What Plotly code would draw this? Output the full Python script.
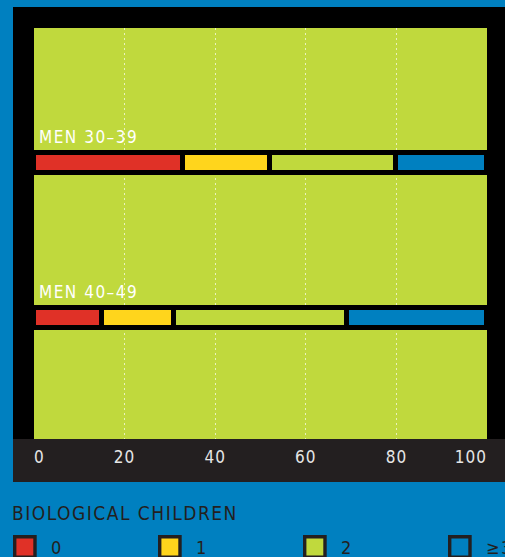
import plotly.graph_objects as go

# share of men by number of biological children (%)
groups = ["MEN 30–39", "MEN 40–49"]
kids = ["0", "1", "2", "≥3"]
share_30s = [33, 19, 28, 20]
share_40s = [15, 16, 38, 31]
colors = ["#e03127", "#ffd51c", "#c0d93d", "#0080c0"]
ticks = [0, 20, 40, 60, 80, 100]

W, H = 505, 557
BLUE = "#0080c0"
DARK = "#231f20"
FONT = "DejaVu Sans Condensed, Roboto, sans-serif"


def rect(x0, y0, x1, y1, **kw):
    # pixel box (from top-left) -> paper coords
    return dict(type="rect", xref="paper", yref="paper",
                x0=x0 / W, x1=x1 / W, y0=1 - y1 / H, y1=1 - y0 / H, **kw)


fig = go.Figure()

for i, k in enumerate(kids):
    fig.add_trace(go.Bar(
        y=groups,
        x=[share_30s[i], share_40s[i]],
        orientation="h",
        name=k,
        width=0.131,
        marker=dict(color=colors[i], line=dict(color="black", width=5.4)),
        showlegend=False,
        hoverinfo="x+name",
    ))

shapes = [
    # black frame round the plot area
    rect(13, 7, 505, 28, fillcolor="black", line_width=0, layer="below"),
    rect(13, 28, 34, 439, fillcolor="black", line_width=0, layer="below"),
    rect(487, 28, 505, 439, fillcolor="black", line_width=0, layer="below"),
    # dark band under it, holding the tick labels
    rect(13, 439, 505, 482, fillcolor=DARK, line_width=0, layer="below"),
]

annotations = []
for g in groups:
    annotations.append(dict(x=0, y=g, xref="x", yref="y", text=g, showarrow=False,
                            xanchor="left", yanchor="middle", align="left",
                            xshift=3, yshift=26,
                            font=dict(family=FONT, size=17, color="white")))

# legend drawn by hand: big square swatches with dark border
annotations.append(dict(x=10 / W, y=1 - 513 / H, xref="paper", yref="paper",
                        text="BIOLOGICAL CHILDREN", showarrow=False,
                        xanchor="left", yanchor="middle", align="left",
                        font=dict(family=FONT, size=19, color=DARK)))
for i, k in enumerate(kids):
    left = 13 + 145 * i
    shapes.append(rect(left + 1.7, 536.7, left + 22, 557.3, fillcolor=colors[i],
                       line=dict(color=DARK, width=3.4)))
    annotations.append(dict(x=(left + 36) / W, y=1 - 547.5 / H, xref="paper", yref="paper",
                            text=k, showarrow=False, xanchor="left", yanchor="middle",
                            align="left",
                            font=dict(family=FONT, size=18, color=DARK)))

fig.update_layout(
    width=W, height=H,
    margin=dict(l=0, r=0, t=0, b=0, autoexpand=False),
    paper_bgcolor=BLUE,
    plot_bgcolor="#c0d93d",
    barmode="stack",
    bargap=0,
    shapes=shapes,
    annotations=annotations,
    xaxis=dict(
        domain=[34 / W, 487 / W],
        range=[0, 100],
        tickvals=ticks,
        showgrid=True,
        gridcolor="rgba(255,255,255,0.65)",
        gridwidth=1,
        griddash="2px,3px",
        zeroline=False,
        showline=False,
        ticks="",
        ticklabelstandoff=6,
        ticklabeloverflow="allow",
        tickfont=dict(family=FONT, size=17, color="#e6e6e6"),
        fixedrange=True,
    ),
    yaxis=dict(
        domain=[(H - 439) / H, (H - 28) / H],
        type="category",
        categoryorder="array",
        categoryarray=groups[::-1],
        range=[-0.782, 1.870],
        showticklabels=False,
        showgrid=False,
        zeroline=False,
        ticks="",
        fixedrange=True,
    ),
)

# page css: no body margin, spaced-out caps like the print original,
# end tick labels flush with the plot edges
css = ("html, body {margin:0; padding:0; overflow:hidden}"
       " .annotation-text {letter-spacing:1.5px}"
       " .xtick text {letter-spacing:1px}"
       " .xtick:first-of-type text {text-anchor:start !important}"
       " .xtick:last-of-type text {text-anchor:end !important}")
js = ("var s = document.createElement('style'); s.textContent = '" + css + "';"
      " (document.head || document.body).appendChild(s);")

fig.write_html("out.html", post_script=js, config={"displayModeBar": False})
